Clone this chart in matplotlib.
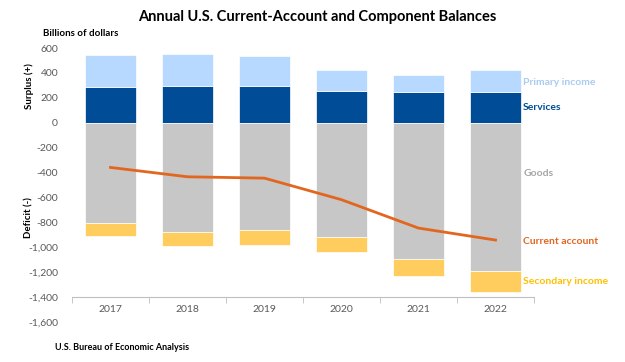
import numpy as np
import matplotlib
matplotlib.use('Agg')
from matplotlib import pyplot as plt

# values (billions of dollars)
years = ['2017', '2018', '2019', '2020', '2021', '2022']
goods = [-803, -878, -859, -916, -1092, -1191]
services = [284, 297, 292, 257, 244, 244]
primary_income = [262, 255, 246, 163, 141, 176]
secondary_income = [-105, -115, -126, -123, -137, -172]
current_account = [-359, -434, -445, -618, -846, -942]

# colours
c_primary = '#B7D9FF'
c_services = '#004C97'
c_goods = '#C6C7C6'
c_secondary = '#FFCC5E'
c_ca = '#E2661F'

plt.rcParams['font.family'] = ['Lato', 'DejaVu Sans']

fig = plt.figure(figsize=(6.25, 3.62), dpi=100)
ax = fig.add_axes([72 / 625, 40 / 362, 462 / 625, 274 / 362])

x = np.arange(len(years))
width = 0.675

# positive stack
ax.bar(x, services, width, color=c_services, edgecolor='white', linewidth=0.5, zorder=2)
ax.bar(x, primary_income, width, bottom=services, color=c_primary, edgecolor='white', linewidth=0.5, zorder=2)
# negative stack
ax.bar(x, goods, width, color=c_goods, edgecolor='white', linewidth=0.5, zorder=2)
ax.bar(x, secondary_income, width, bottom=goods, color=c_secondary, edgecolor='white', linewidth=0.5, zorder=2)

# current account line
ax.plot(x, current_account, color=c_ca, linewidth=2, zorder=3)

ax.set_xlim(-0.5, 5.5)
ax.set_ylim(-1600, 600)
ax.set_yticks(np.arange(-1600, 601, 200))
ax.set_yticklabels(['{:,}'.format(v) for v in range(-1600, 601, 200)])
ax.tick_params(axis='y', length=0, pad=10, labelsize=7.5, labelcolor='#595959')

for s in ['top', 'right', 'left']:
    ax.spines[s].set_visible(False)
ax.spines['bottom'].set_position(('data', -1400))
ax.spines['bottom'].set_color('#BFBFBF')

ax.set_xticks(x)
ax.set_xticklabels(years)
ax.set_xticks(np.arange(-0.5, 6, 1), minor=True)
ax.tick_params(axis='x', which='major', length=0, pad=6, labelsize=7.5, labelcolor='#595959')
ax.tick_params(axis='x', which='minor', length=4, color='#BFBFBF')

# series labels on the right
lab_x = 5.36
ax.text(lab_x, 325, 'Primary income', color='#A9CBF0', fontsize=7.5, fontweight='bold', va='center', ha='left')
ax.text(lab_x, 120, 'Services', color=c_services, fontsize=7.5, fontweight='bold', va='center', ha='left')
ax.text(lab_x, -410, 'Goods', color='#A6A6A6', fontsize=7.5, fontweight='bold', va='center', ha='left')
ax.text(lab_x, -955, 'Current account', color=c_ca, fontsize=7.5, fontweight='bold', va='center', ha='left')
ax.text(lab_x, -1275, 'Secondary income', color='#FFC000', fontsize=7.5, fontweight='bold', va='center', ha='left')

# titles and notes
fig.text(317 / 625, 1 - 17 / 362, 'Annual U.S. Current-Account and Component Balances',
         ha='center', va='center', fontsize=10.5, fontweight='bold')
fig.text(43 / 625, 1 - 33 / 362, 'Billions of dollars', ha='left', va='center', fontsize=7, fontweight='bold')
fig.text(29 / 625, 1 - 86 / 362, 'Surplus (+)', ha='center', va='center', rotation=90, fontsize=7, fontweight='bold')
fig.text(29 / 625, 1 - 218 / 362, 'Deficit (-)', ha='center', va='center', rotation=90, fontsize=7, fontweight='bold')
fig.text(55 / 625, 1 - 348 / 362, 'U.S. Bureau of Economic Analysis', ha='left', va='center', fontsize=6.5, fontweight='bold')

fig.savefig('out.png', dpi=100)
